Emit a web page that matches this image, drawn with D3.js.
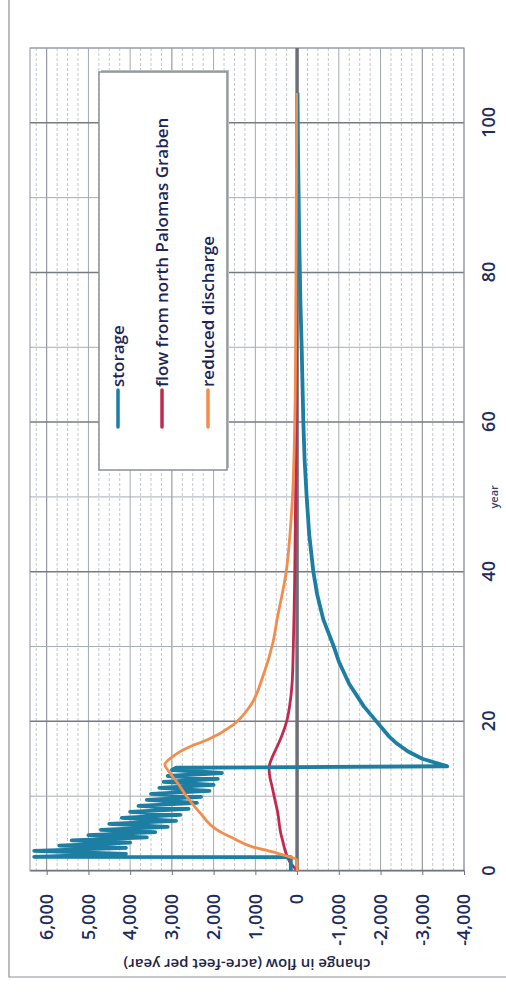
<!DOCTYPE html>
<html>
<head>
<meta charset="utf-8">
<script src="https://cdn.jsdelivr.net/npm/d3@7"></script>
<style>
  body { margin: 0; background: #fff; }
  text { font-family: "Open Sans", "Noto Sans", sans-serif; }
</style>
</head>
<body>
<svg id="chart"></svg>
<script>
// series as [year, acre-feet per year]
const seriesNames = ["storage", "flow from north Palomas Graben", "reduced discharge"];
const seriesColors = ["#1b7ea2", "#c2294f", "#f28d4d"];

const storage = [
  [0, 150], [1.85, 150], [1.9, 6300], [2.3, 4100], [2.7, 6300], [3.1, 4100],
  [3.4, 5700], [3.8, 4000], [4.1, 5400], [4.5, 3600], [4.8, 5000], [5.2, 3400],
  [5.5, 4700], [5.9, 3100], [6.3, 4500], [6.7, 2900], [7.1, 4200], [7.5, 2800],
  [7.9, 4000], [8.3, 2600], [8.7, 3800], [9.1, 2400], [9.5, 3600], [9.9, 2300],
  [10.3, 3500], [10.7, 2100], [11.1, 3300], [11.5, 2000], [11.9, 3200], [12.3, 1900],
  [12.7, 3100], [13.1, 1800], [13.5, 3000], [13.8, 2900], [14.0, -3600], [14.5, -3300],
  [15, -3000], [16, -2650], [17, -2400], [18, -2200], [20, -1900], [22, -1600],
  [25, -1250], [28, -1000], [30, -880], [33.6, -630], [37, -480], [40, -390],
  [45, -290], [50, -230], [55, -180], [60, -150], [70, -110], [76, -80],
  [85, -50], [95, -25], [104, -10]
];

const northFlow = [
  [0, 0], [0.5, 70], [1, 150], [2, 240], [3, 300], [3.7, 330], [5, 390], [6, 420],
  [7.7, 460], [9.5, 530], [11.3, 600], [12.5, 650], [13.5, 670], [14.2, 660],
  [15, 610], [16.6, 480], [18, 370], [20.2, 240], [22, 180], [25, 120], [30, 90],
  [35, 70], [40, 55], [50, 35], [60, 22], [70, 15], [80, 10], [104, 5]
];

const reducedDischarge = [
  [0, 0], [1.5, 10], [2.0, 250], [2.4, 480], [3.2, 1050], [4.4, 1540], [5.5, 1920],
  [7.8, 2330], [9.9, 2640], [11.9, 2880], [13.5, 3100], [14.2, 3170], [15.3, 2980],
  [16.6, 2570], [17.5, 2160], [19.5, 1540], [22, 1130], [26, 820], [30.5, 580],
  [33.6, 480], [40, 260], [45, 170], [50, 110], [60, 55], [70, 35], [80, 25],
  [90, 18], [104, 12]
];

const yearTicks = [0, 20, 40, 60, 80, 100];
const flowTicks = [-4000, -3000, -2000, -1000, 0, 1000, 2000, 3000, 4000, 5000, 6000];

const width = 506, height = 994;
// plot size in the chart's own (unrotated) frame
const W = 823, H = 434;

const svg = d3.select("#chart")
    .attr("width", width)
    .attr("height", height);

// page frame of the scan
svg.append("path")
    .attr("d", "M9,0V977H506")
    .attr("fill", "none")
    .attr("stroke", "#8d9096")
    .attr("stroke-width", 1.2);

// the whole chart is printed turned a quarter turn
const g = svg.append("g")
    .attr("transform", "translate(30,871) rotate(-90)");

const x = d3.scaleLinear().domain([0, 110]).range([0, W]);
const y = d3.scaleLinear().domain([-4000, 6400]).range([H, 0]);

// minor flow gridlines
g.append("g").selectAll("line")
    .data(d3.range(-4000, 6400, 250).filter(v => v % 1000 !== 0))
    .join("line")
    .attr("x1", 0).attr("x2", W)
    .attr("y1", d => y(d)).attr("y2", d => y(d))
    .attr("stroke", "#c3c7cd")
    .attr("stroke-dasharray", "3,2");

// major flow gridlines
g.append("g").selectAll("line")
    .data(flowTicks)
    .join("line")
    .attr("x1", 0).attr("x2", W)
    .attr("y1", d => y(d)).attr("y2", d => y(d))
    .attr("stroke", d => d % 3000 === 0 ? "#80858d" : "#a3a8af");

// year gridlines
g.append("g").selectAll("line")
    .data(d3.range(10, 111, 10))
    .join("line")
    .attr("x1", d => x(d)).attr("x2", d => x(d))
    .attr("y1", 0).attr("y2", H)
    .attr("stroke", d => d % 20 === 0 ? "#767b83" : "#a7acb3")
    .attr("stroke-width", d => d % 20 === 0 ? 1.5 : 1);

g.append("rect")
    .attr("width", W).attr("height", H)
    .attr("fill", "none")
    .attr("stroke", "#8f949b");

// zero line (year axis)
g.append("line")
    .attr("x1", 0).attr("x2", W)
    .attr("y1", y(0)).attr("y2", y(0))
    .attr("stroke", "#6c7076")
    .attr("stroke-width", 3.5);

// flow axis
const fmt = d => d3.format(",")(d).replace("\u2212", "-");
const yAxis = g.append("g")
    .call(d3.axisLeft(y).tickValues(flowTicks).tickFormat(fmt).tickSize(4).tickSizeOuter(0).tickPadding(19));
yAxis.select(".domain").attr("stroke", "#70747b").attr("stroke-width", 1.5);
yAxis.selectAll(".tick line").attr("stroke", "#70747b");
yAxis.selectAll("text")
    .attr("fill", "#1d2c5c")
    .style("font-size", "18px")
    .style("font-weight", 600);

// year axis
const xAxis = g.append("g")
    .attr("transform", "translate(0," + H + ")")
    .call(d3.axisBottom(x).tickValues(yearTicks).tickSize(0).tickPadding(18));
xAxis.select(".domain").remove();
xAxis.selectAll("text")
    .attr("fill", "#1d2c5c")
    .style("font-size", "18px")
    .style("font-weight", 600);

// axis titles
g.append("text")
    .attr("transform", "translate(" + x(50) + "," + (H + 29) + ")")
    .attr("text-anchor", "middle")
    .attr("dominant-baseline", "central")
    .attr("fill", "#3a3f6a")
    .style("font-size", "11px")
    .style("font-weight", 600)
    .text("year");

g.append("text")
    .attr("transform", "translate(-94," + (H / 2) + ") rotate(-90)")
    .attr("text-anchor", "middle")
    .attr("dominant-baseline", "central")
    .attr("fill", "#1f2448")
    .style("font-size", "15px")
    .style("font-weight", 600)
    .text("change in flow (acre-feet per year)");

// lines
const line = d3.line()
    .x(d => x(d[0]))
    .y(d => y(d[1]));
const smooth = d3.line()
    .x(d => x(d[0]))
    .y(d => y(d[1]))
    .curve(d3.curveMonotoneX);

g.append("path")
    .attr("d", smooth(northFlow))
    .attr("fill", "none")
    .attr("stroke", seriesColors[1])
    .attr("stroke-width", 2.8);

g.append("path")
    .attr("d", line(storage))
    .attr("fill", "none")
    .attr("stroke", seriesColors[0])
    .attr("stroke-width", 3.8)
    .attr("stroke-linejoin", "round");

g.append("path")
    .attr("d", smooth(reducedDischarge))
    .attr("fill", "none")
    .attr("stroke", seriesColors[2])
    .attr("stroke-width", 2.8);

// legend
const legend = g.append("g").attr("transform", "translate(401,69)");
legend.append("rect")
    .attr("x", 2).attr("y", 2)
    .attr("width", 398).attr("height", 128)
    .attr("fill", "#b9bcc1");
legend.append("rect")
    .attr("width", 398).attr("height", 128)
    .attr("fill", "#fff")
    .attr("stroke", "#8a8e95")
    .attr("stroke-width", 1.5);

const entry = legend.selectAll("g.entry")
    .data(seriesNames)
    .join("g")
    .attr("class", "entry")
    .attr("transform", (d, i) => "translate(0," + [19, 63, 109][i] + ")");
entry.append("line")
    .attr("x1", 43).attr("x2", 80)
    .attr("stroke", (d, i) => seriesColors[i])
    .attr("stroke-width", 3.5)
    .attr("stroke-linecap", "round");
entry.append("text")
    .attr("x", 83)
    .attr("dy", "0.35em")
    .attr("fill", "#1d2556")
    .style("font-size", "17px")
    .style("font-weight", 600)
    .text(d => d);
</script>
</body>
</html>
